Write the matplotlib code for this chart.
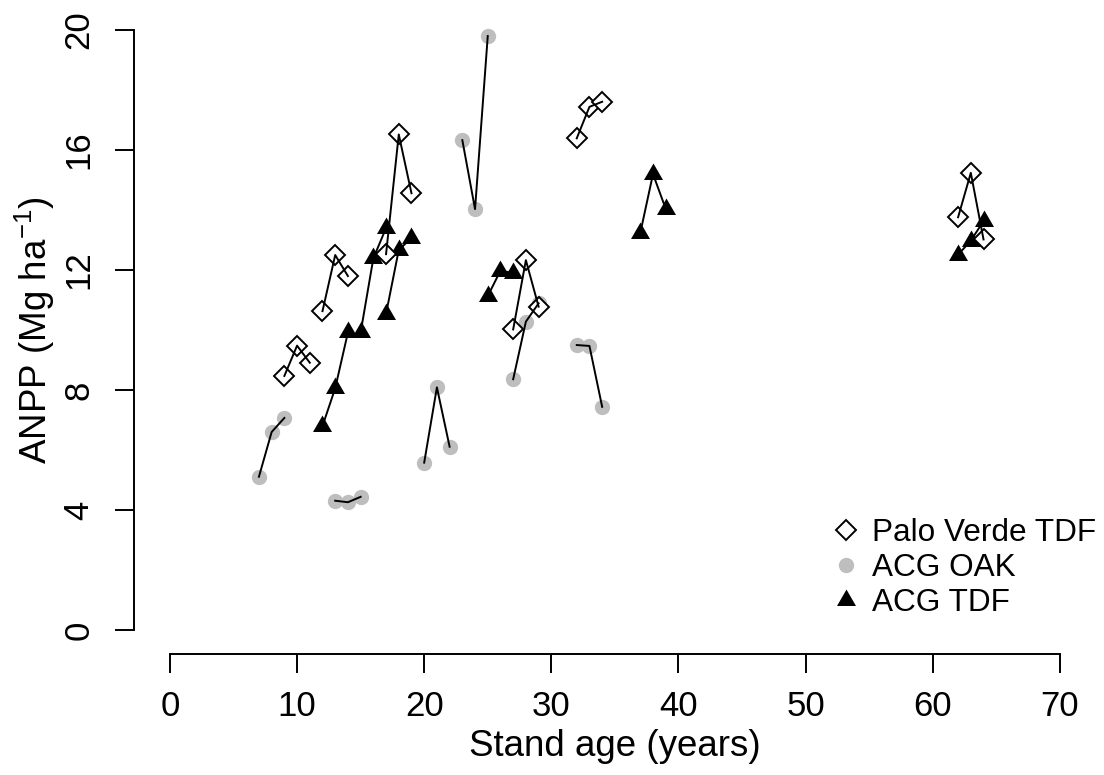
import matplotlib
matplotlib.use('Agg')
import matplotlib.pyplot as plt
from matplotlib.lines import Line2D

plt.rcParams['font.family'] = ['Liberation Sans', 'DejaVu Sans']
plt.rcParams['mathtext.fontset'] = 'custom'
plt.rcParams['mathtext.rm'] = 'Liberation Sans'

# stand age (years) and ANPP (Mg/ha), three consecutive years per plot
pv_age = [9, 10, 11, 12, 13, 14, 17, 18, 19, 27, 28, 29, 32, 33, 34, 62, 63, 64]
pv_anpp = [8.47, 9.48, 8.91, 10.63, 12.5, 11.8, 12.53, 16.52, 14.56,
           10.02, 12.33, 10.78, 16.39, 17.44, 17.61, 13.76, 15.24, 13.02]

oak_age = [7, 8, 9, 13, 14, 15, 20, 21, 22, 23, 24, 25, 27, 28, 29, 32, 33, 34]
oak_anpp = [5.11, 6.6, 7.07, 4.31, 4.26, 4.44, 5.58, 8.09, 6.11,
            16.33, 14.03, 19.8, 8.36, 10.28, 10.89, 9.5, 9.47, 7.44]

tdf_age = [12, 13, 14, 15, 16, 17, 17, 18, 19, 25, 26, 27, 37, 38, 39, 62, 63, 64]
tdf_anpp = [6.8, 8.06, 9.92, 9.92, 12.39, 13.4, 10.54, 12.67, 13.07,
            11.13, 11.98, 11.9, 13.24, 15.2, 14.04, 12.51, 12.98, 13.63]

labels = ['Palo Verde TDF', 'ACG OAK', 'ACG TDF']

tri = [(0, 1), (-0.866, -0.5), (0.866, -0.5)]

fig = plt.figure(figsize=(11.04, 7.75), dpi=100)
ax = fig.add_axes([0.1217, 0.1561, 0.8705, 0.8361])

# points
ax.plot(oak_age, oak_anpp, ls='none', marker='o', ms=10, mfc='#bebebe',
        mec='#bebebe', zorder=2)
ax.plot(tdf_age, tdf_anpp, ls='none', marker=tri, ms=15.8, mfc='black',
        mec='black', mew=0, zorder=2)
ax.plot(pv_age, pv_anpp, ls='none', marker='D', ms=10.5, mfc='white',
        mec='black', mew=1.4, zorder=2)

# lines joining the three years of each plot
for age, anpp in [(oak_age, oak_anpp), (tdf_age, tdf_anpp), (pv_age, pv_anpp)]:
    for i in range(0, len(age), 3):
        ax.plot(age[i:i + 3], anpp[i:i + 3], color='black', lw=1.4, zorder=3)

ax.set_xlim(-2.8, 72.8)
ax.set_ylim(-0.8, 20.8)
ax.set_xticks(range(0, 71, 10))
ax.set_yticks(range(0, 21, 4))

for s in ['top', 'right']:
    ax.spines[s].set_visible(False)
ax.spines['bottom'].set_bounds(0, 70)
ax.spines['left'].set_bounds(0, 20)
for s in ['bottom', 'left']:
    ax.spines[s].set_linewidth(1.4)

ax.tick_params(axis='both', length=13.7, width=1.4, labelsize=25)
ax.tick_params(axis='x', pad=12.5)
ax.tick_params(axis='y', labelrotation=90, pad=14.5)
for t in ax.get_yticklabels():
    t.set_va('center')

ax.set_xlabel('Stand age (years)', fontsize=26.5, va='center')
ax.set_ylabel(r'ANPP (Mg ha$^{\mathregular{-1}}$)', fontsize=26.5, va='center')
ax.xaxis.set_label_coords(0.5, -0.142)
ax.yaxis.set_label_coords(-0.1034, 0.5)

handles = [
    Line2D([], [], ls='none', marker='D', ms=10.5, mfc='white', mec='black', mew=1.4),
    Line2D([], [], ls='none', marker='o', ms=10, mfc='#bebebe', mec='#bebebe'),
    Line2D([], [], ls='none', marker=tri, ms=15.8, mfc='black', mew=0),
]
fig.legend(handles, labels, loc='upper left', bbox_to_anchor=(0.752, 0.332),
           bbox_transform=fig.transFigure, frameon=False, fontsize=22.7,
           handlelength=1.0, handletextpad=0.33, labelspacing=0.17,
           borderpad=0, borderaxespad=0)

fig.savefig('out.png', dpi=100)
